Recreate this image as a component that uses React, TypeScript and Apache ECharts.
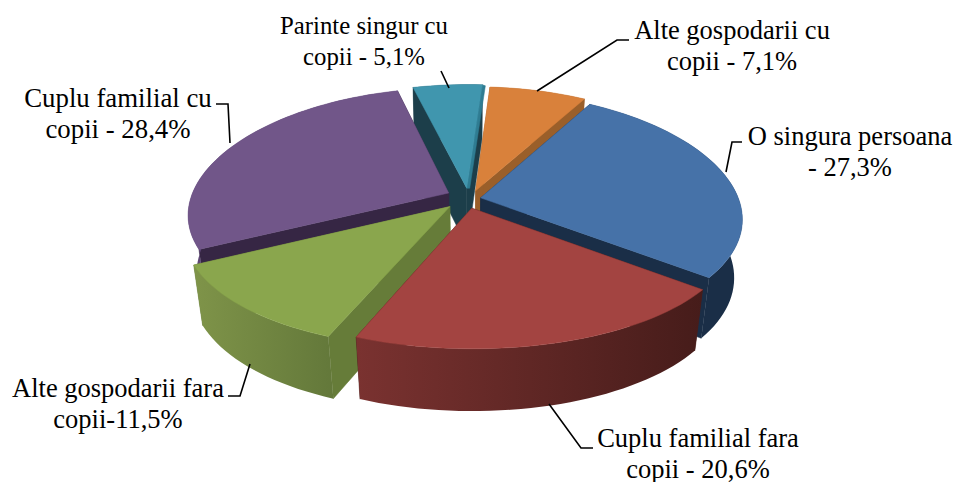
import React, { useEffect, useRef } from "react";
import * as echarts from "echarts";

// Data, clockwise from the first slice
const categories = ["O singura persoana", "Cuplu familial fara copii", "Alte gospodarii fara copii", "Cuplu familial cu copii", "Parinte singur cu copii", "Alte gospodarii cu copii"];
const values = [27.3, 20.6, 11.5, 28.4, 5.1, 7.1];
const labelTexts = [
  "O singura persoana\n- 27,3%",
  "Cuplu familial fara\ncopii - 20,6%",
  "Alte gospodarii fara\ncopii-11,5%",
  "Cuplu familial cu\ncopii - 28,4%",
  "Parinte singur cu\ncopii - 5,1%",
  "Alte gospodarii cu\ncopii - 7,1%",
];

// Styling and layout
const explode = [0.05, 0.07, 0.13, 0.1, 0.1, 0.09];
const nudge = [[-2, -1], [-3, 0], [3, -5], [2, -2], [-1, 0], [-1, 1]];
const drawOrder = [4, 5, 3, 0, 2, 1];
const topColors = ["#4672A8", "#A34441", "#8AA64D", "#715689", "#4096AE", "#D9813B"];
const sideFace = ["#1A2E47", "#4A1D1A", "#667C39", "#362644", "#1C3E4A", "#9A5F2A"];
const endStrip = [0, 0, 0, 0, 3, 0];
const stripColor = "#2F7C92";
const wallStops = [
  ["#1A2E47", "#1A2E47"],
  ["#7A3230", "#461C1A"],
  ["#7F9449", "#63783A"],
  ["#5E4775", "#4E3B63"],
  ["#1C3E4A", "#1C3E4A"],
  ["#9A5F2A", "#9A5F2A"],
];
const labelPos = [[850, 151], [698, 453], [118, 403], [118, 113], [364, 41], [732, 45]];
const labelSize = [26.5, 26.5, 26.5, 26.8, 24.8, 26.5];
const leaders = [
  [[742, 142], [732, 142], [726, 172]],
  [[593, 448], [581, 448], [549, 404]],
  [[228, 396], [240, 396], [250, 364]],
  [[216, 104], [228, 104], [230, 143]],
  [[441, 71], [449, 88]],
  [[629, 40], [617, 40], [537, 91]],
];
const START_DEG = 29.6;
const CX = 470, CY = 200, R = 258, T = 120, H = 60, K = 0.13, KX = 0.17, BOTTOM_W = 0.03;

const rad = (d: number) => (d * Math.PI) / 180;

function project(u: number, v: number, bottom: boolean): number[] {
  const extra = bottom ? BOTTOM_W : 0;
  return [CX + (R * u) / (1 - KX * v + extra), CY + (T * v + (bottom ? H : 0)) / (1 - K * v + extra)];
}

function sliceRanges(): number[][] {
  const total = values.reduce((a, b) => a + b, 0);
  let a = START_DEG;
  return values.map((val) => {
    const s = a;
    a += (val / total) * 360;
    return [s, a];
  });
}

function renderSlice(params: any, api: any) {
  const idx = api.value(1);
  const [a0, a1] = sliceRanges()[idx];
  const mid = rad((a0 + a1) / 2);
  const ou = explode[idx] * Math.sin(mid);
  const ov = -explode[idx] * Math.cos(mid);
  const [nx, ny] = nudge[idx];
  const place = (u: number, v: number, bottom: boolean) => {
    const p = project(u, v, bottom);
    return [p[0] + nx, p[1] + ny];
  };
  const arc = (bottom: boolean) => {
    const pts: number[][] = [];
    const n = Math.max(8, Math.ceil((a1 - a0) / 2));
    for (let i = 0; i <= n; i++) {
      const t = rad(a0 + ((a1 - a0) * i) / n);
      pts.push(place(ou + Math.sin(t), ov - Math.cos(t), bottom));
    }
    return pts;
  };
  const apexTop = place(ou, ov, false);
  const apexBottom = place(ou, ov, true);
  const top = arc(false);
  const bot = arc(true);
  const first = top[0], last = top[top.length - 1];
  const firstB = bot[0], lastB = bot[bot.length - 1];
  const poly = (points: number[][], fill: any) => ({
    type: "polygon",
    shape: { points },
    style: { fill, stroke: typeof fill === "string" ? fill : undefined, lineWidth: 0.5 },
  });
  const wallFill = new echarts.graphic.LinearGradient(0, 0, 1, 0, [
    { offset: 0, color: wallStops[idx][0] },
    { offset: 1, color: wallStops[idx][1] },
  ]);
  const s = endStrip[idx];
  const children: any[] = [
    poly([apexTop, last, lastB, apexBottom], sideFace[idx]),
    poly([apexTop, first, firstB, apexBottom], sideFace[idx]),
    poly([...top, ...bot.slice().reverse()], wallFill),
  ];
  if (s > 0) {
    children.push(poly([apexTop, last, [last[0] + s, last[1] + 1], [apexTop[0] + s, apexTop[1]]], stripColor));
  }
  children.push(poly([apexTop, ...top], topColors[idx]));
  return { type: "group", children };
}

export default function App() {
  const ref = useRef<HTMLDivElement>(null);
  useEffect(() => {
    document.body.style.margin = "0";
    const chart = echarts.init(ref.current!, undefined, { renderer: "svg" });
    chart.setOption({
      animation: false,
      backgroundColor: "#FFFFFF",
      series: [
        {
          type: "custom",
          coordinateSystem: "none",
          renderItem: renderSlice,
          silent: true,
          data: drawOrder.map((i) => ({ name: categories[i], value: [values[i], i] })),
        },
      ],
      graphic: [
        ...leaders.map((points) => ({
          type: "polyline",
          z: 10,
          shape: { points },
          style: { fill: "none", stroke: "#000000", lineWidth: 1.6 },
        })),
        ...labelTexts.map((text, i) => ({
          type: "text",
          z: 11,
          x: labelPos[i][0],
          y: labelPos[i][1],
          style: {
            text,
            fill: "#000000",
            font: `${labelSize[i]}px "Liberation Serif"`,
            align: "center",
            verticalAlign: "middle",
            lineHeight: 31,
          },
        })),
      ],
    });
    return () => chart.dispose();
  }, []);
  return <div ref={ref} style={{ position: "fixed", left: 0, top: 0, width: 956, height: 482 }} />;
}
